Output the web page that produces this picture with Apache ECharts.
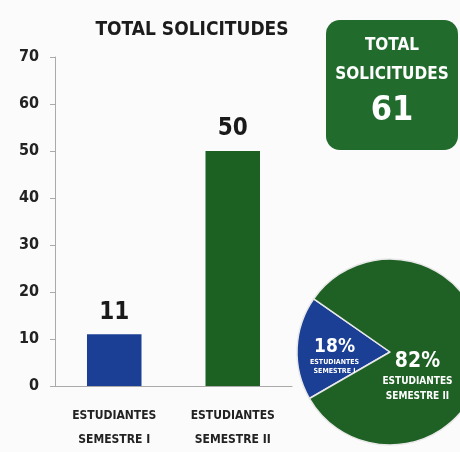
<!DOCTYPE html>
<html>
<head>
<meta charset="utf-8">
<script src="https://cdn.jsdelivr.net/npm/echarts@6/dist/echarts.min.js"></script>
<style>
  html, body { margin: 0; padding: 0; background: #fbfbfb; }
  #main { width: 460px; height: 452px; }
</style>
</head>
<body>
<div id="main"></div>
<script>
const categories = ["ESTUDIANTES\nSEMESTRE I", "ESTUDIANTES\nSEMESTRE II"];
const values = [11, 50];
const barColors = ["#1b3f94", "#1d6122"];
const pieNames = ["ESTUDIANTES\nSEMESTRE I", "ESTUDIANTES\nSEMESTRE II"];
const total = values.reduce((s, v) => s + v, 0);

const FONT = "'DejaVu Sans Condensed', 'Roboto', sans-serif";

const chart = echarts.init(document.getElementById("main"), null, { renderer: "canvas" });

const pctLabel = p => "{p|" + Math.round(p.percent) + "%}\n{n|" + p.name + "}";

const option = {
  backgroundColor: "#fbfbfb",
  textStyle: { fontFamily: FONT },
  title: {
    text: "TOTAL SOLICITUDES",
    left: 187,
    top: 16,
    textAlign: "center",
    textStyle: { fontFamily: FONT, fontSize: 19, fontWeight: "bold", color: "#1c1c1c" }
  },
  grid: { left: 55, right: 168, top: 57, bottom: 65 },
  xAxis: {
    type: "category",
    data: categories,
    axisLine: { lineStyle: { color: "#aaa" } },
    axisTick: { show: false },
    axisLabel: {
      interval: 0,
      fontFamily: FONT, fontSize: 12, fontWeight: "bold", color: "#222",
      lineHeight: 24, margin: 18
    }
  },
  yAxis: {
    type: "value",
    min: 0,
    max: 70,
    interval: 10,
    splitLine: { show: false },
    axisLine: { show: true, lineStyle: { color: "#aaa" } },
    axisTick: { show: true, length: 5, lineStyle: { color: "#aaa" } },
    axisLabel: { fontFamily: FONT, fontSize: 16, fontWeight: "bold", color: "#222", margin: 16 }
  },
  graphic: [
    {
      type: "rect",
      shape: { x: 326, y: 20, width: 132, height: 130, r: 14 },
      style: { fill: "#216b2c" },
      z: 1
    },
    {
      type: "text",
      style: {
        x: 392, y: 37, text: "TOTAL", textAlign: "center",
        fill: "#fff", font: "bold 17px " + FONT
      },
      z: 2
    },
    {
      type: "text",
      style: {
        x: 392, y: 66, text: "SOLICITUDES", textAlign: "center",
        fill: "#fff", font: "bold 17px " + FONT
      },
      z: 2
    },
    {
      type: "text",
      style: {
        x: 392, y: 94, text: String(total), textAlign: "center",
        fill: "#fff", font: "bold 34px " + FONT
      },
      z: 2
    }
  ],
  series: [
    {
      type: "bar",
      data: values.map((v, i) => ({ value: v, itemStyle: { color: barColors[i] } })),
      barWidth: "46%",
      label: {
        show: true,
        position: "top",
        distance: 10,
        fontFamily: FONT,
        fontSize: 24,
        fontWeight: "bold",
        color: "#1a1a1a"
      }
    },
    {
      type: "pie",
      center: [390, 352],
      radius: 93,
      startAngle: 210,
      silent: true,
      avoidLabelOverlap: false,
      minShowLabelAngle: 0,
      itemStyle: { borderColor: "#e8e8e8", borderWidth: 1.5 },
      label: {
        show: true,
        position: "inside",
        formatter: pctLabel,
        rich: {
          p: { fontFamily: FONT, fontSize: 21, fontWeight: "bold", color: "#fff", lineHeight: 26 },
          n: { fontFamily: FONT, fontSize: 10, fontWeight: "bold", color: "#fff", lineHeight: 15 }
        }
      },
      labelLine: { show: false },
      data: [
        { value: values[0], name: pieNames[0], itemStyle: { color: "#1b3f94" },
          label: {
            offset: [-6, 6],
            rich: {
              p: { fontFamily: FONT, fontSize: 19, fontWeight: "bold", color: "#fff", lineHeight: 22 },
              n: { fontFamily: FONT, fontSize: 7, fontWeight: "bold", color: "#fff", lineHeight: 9 }
            }
          } },
        { value: values[1], name: pieNames[1], itemStyle: { color: "#1f6124" },
          label: { offset: [-22, 22] } }
      ]
    }
  ]
};

chart.setOption(option);
</script>
</body>
</html>
